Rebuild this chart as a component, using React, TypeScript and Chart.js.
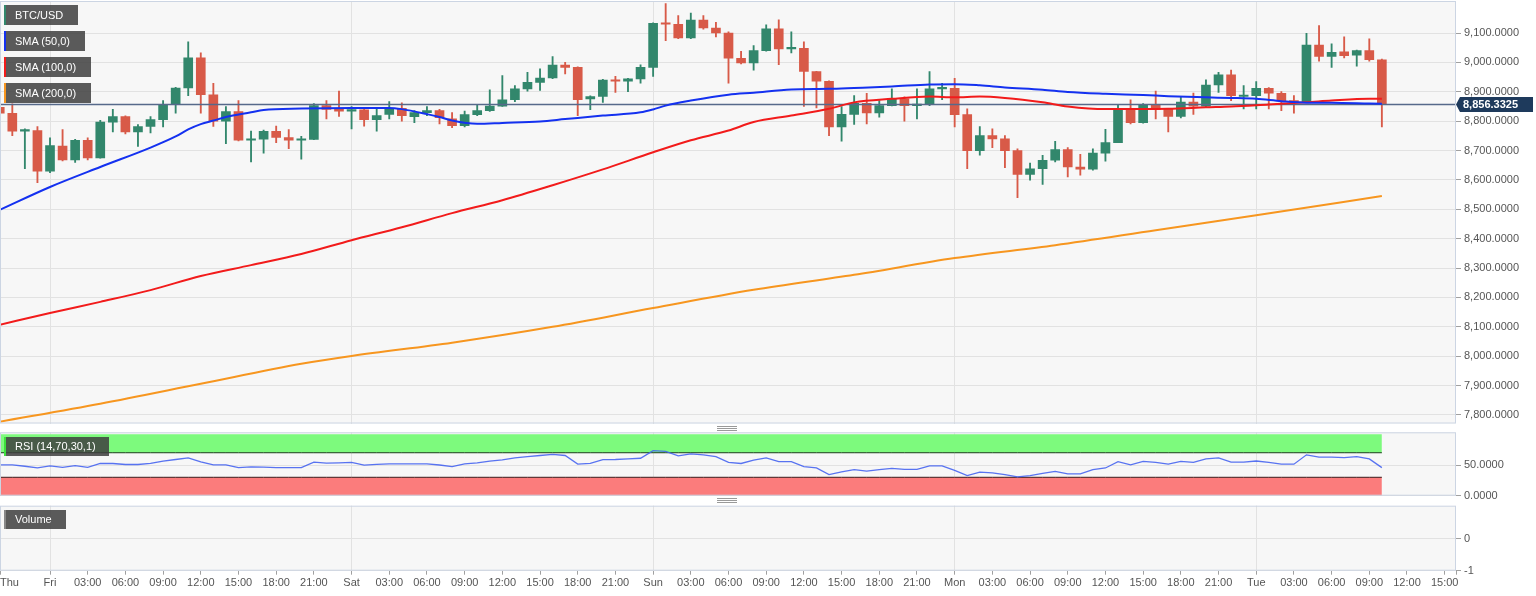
import React, { useEffect, useRef } from 'react';
import { Chart, registerables } from 'chart.js';

Chart.register(...registerables);

// ---------------- data (hourly candles, hour 0 = Fri 00:00) ----------------
const FIRST_CANDLE_HOUR = -4; // Thu 20:00

const OPEN = [
  8847, 8827, 8766, 8768, 8630, 8715, 8668, 8735, 8675, 8797,
  8816, 8763, 8782, 8805, 8857, 8913, 9016, 8890, 8800, 8833,
  8735, 8739, 8765, 8744, 8735, 8738, 8853, 8843, 8834, 8839,
  8805, 8823, 8844, 8815, 8829, 8836, 8808, 8785, 8822, 8836,
  8851, 8873, 8910, 8932, 8947, 8991, 8983, 8876, 8884, 8940,
  8936, 8944, 8983, 9133, 9130, 9083, 9144, 9117, 9100, 9014,
  8998, 9040, 9114, 9046, 9048, 8969, 8936, 8780, 8823, 8861,
  8828, 8853, 8876, 8853, 8856, 8910, 8912, 8822, 8700, 8751,
  8740, 8700, 8619, 8638, 8667, 8703, 8644, 8637, 8691, 8727,
  8842, 8795, 8857, 8840, 8816, 8865, 8851, 8923, 8958, 8884,
  8887, 8912, 8895, 8870, 8865, 9059, 9020, 9036, 9025, 9040, 9009,
];
const HIGH = [
  8898, 8859, 8774, 8782, 8743, 8771, 8738, 8743, 8803, 8840,
  8818, 8788, 8816, 8870, 8915, 9070, 9033, 8929, 8850, 8870,
  8766, 8770, 8783, 8771, 8748, 8860, 8870, 8902, 8850, 8842,
  8840, 8867, 8862, 8836, 8850, 8840, 8829, 8834, 8857, 8907,
  8955, 8921, 8966, 8978, 9020, 9000, 8985, 8886, 8942, 8953,
  8946, 8992, 9135, 9200, 9159, 9168, 9159, 9136, 9104, 9038,
  9057, 9128, 9145, 9104, 9070, 8970, 8937, 8850, 8887, 8895,
  8870, 8910, 8883, 8910, 8969, 8929, 8946, 8842, 8782, 8774,
  8751, 8706, 8657, 8684, 8731, 8710, 8687, 8706, 8772, 8856,
  8873, 8860, 8902, 8842, 8884, 8896, 8941, 8966, 8974, 8921,
  8935, 8914, 8901, 8887, 9099, 9125, 9063, 9087, 9042, 9080, 9011,
];
const LOW = [
  8703, 8751, 8638, 8591, 8625, 8665, 8660, 8668, 8674, 8763,
  8757, 8714, 8760, 8780, 8827, 8887, 8827, 8782, 8723, 8733,
  8661, 8691, 8727, 8706, 8671, 8737, 8808, 8816, 8774, 8783,
  8766, 8808, 8800, 8795, 8819, 8791, 8778, 8780, 8819, 8833,
  8850, 8866, 8902, 8905, 8945, 8961, 8819, 8839, 8864, 8898,
  8900, 8929, 8952, 9074, 9081, 9081, 9113, 9087, 8929, 8995,
  8974, 9038, 8992, 9032, 8850, 8845, 8751, 8732, 8789, 8791,
  8814, 8852, 8800, 8808, 8853, 8873, 8780, 8638, 8684, 8710,
  8642, 8540, 8599, 8585, 8661, 8610, 8616, 8633, 8664, 8727,
  8791, 8793, 8808, 8763, 8811, 8823, 8849, 8898, 8870, 8842,
  8842, 8842, 8836, 8827, 8863, 9004, 8983, 9015, 8987, 9004, 8780,
];
const CLOSE = [
  8827, 8766, 8768, 8630, 8717, 8668, 8735, 8675, 8797, 8816,
  8763, 8782, 8805, 8857, 8913, 9016, 8890, 8800, 8833, 8735,
  8739, 8765, 8745, 8735, 8738, 8853, 8840, 8834, 8839, 8805,
  8819, 8844, 8819, 8829, 8836, 8812, 8785, 8822, 8836, 8851,
  8873, 8910, 8932, 8947, 8991, 8983, 8873, 8884, 8940, 8936,
  8944, 8983, 9133, 9130, 9083, 9144, 9117, 9100, 9014, 8998,
  9040, 9114, 9046, 9048, 8969, 8936, 8780, 8823, 8861, 8828,
  8853, 8876, 8853, 8856, 8910, 8912, 8822, 8700, 8751, 8740,
  8700, 8619, 8638, 8667, 8703, 8644, 8637, 8691, 8727, 8839,
  8795, 8857, 8840, 8816, 8865, 8851, 8923, 8958, 8887, 8889,
  8912, 8895, 8870, 8865, 9059, 9020, 9034, 9023, 9040, 9009, 8856.3325,
];

const RSI = [
  50.3, 50.3, 48.0, 45.2, 48.6, 46.3, 49.1, 46.3, 52.5, 52.5,
  50.8, 50.8, 52.5, 56.5, 59.0, 61.5, 55.0, 50.3, 50.3, 45.8,
  46.9, 46.5, 45.8, 45.8, 45.8, 54.8, 53.1, 53.5, 54.2, 49.7,
  51.0, 52.0, 52.0, 52.0, 52.0, 50.0, 47.5, 52.0, 53.5, 56.5,
  58.5, 61.5, 63.5, 65.5, 67.2, 65.5, 51.4, 52.5, 58.7, 59.0,
  59.9, 61.0, 73.4, 72.3, 64.9, 68.3, 66.6, 63.8, 54.2, 52.5,
  58.0, 61.5, 55.4, 55.4, 47.5, 45.2, 34.5, 39.0, 42.4, 40.1,
  42.5, 44.6, 43.0, 43.0, 48.6, 48.6, 41.3, 32.8, 38.5, 37.3,
  34.5, 30.6, 32.8, 36.2, 39.6, 35.6, 35.6, 42.4, 45.2, 55.4,
  50.3, 55.9, 54.2, 51.4, 55.9, 54.2, 59.9, 61.5, 54.8, 54.8,
  56.5, 54.2, 51.4, 51.4, 66.6, 62.7, 62.7, 62.1, 63.8, 59.9, 45.8,
];
const RSI_OVERBOUGHT = 70;
const RSI_OVERSOLD = 30;
const RSI_CEIL = 100;

const VOLUME: number[] = [];

const SMA50_HOURS = [-4, 0, 4, 8, 10, 11, 12, 13, 14, 16, 17, 20, 24, 27, 28, 30, 31, 32, 34, 36, 39, 41, 44, 47, 48, 49, 51, 54, 56, 59, 62, 64, 67, 70, 72, 74, 76, 79, 81, 84, 87, 89, 92, 94, 96, 98, 100, 102, 105, 106];
const SMA50 = [8498, 8576, 8644, 8710, 8748, 8772, 8790, 8802, 8814, 8830, 8838, 8843, 8845, 8845, 8841, 8824, 8814, 8802, 8791, 8794, 8799, 8807, 8819, 8830, 8840, 8853, 8870, 8890, 8897, 8908, 8910, 8913, 8918, 8925, 8926, 8922, 8915, 8907, 8899, 8893, 8889, 8885, 8881, 8879, 8876, 8868, 8863, 8863, 8860, 8859];

const SMA100_HOURS = [-4, 0, 4, 8, 12, 16, 20, 24, 28, 32, 36, 40, 44, 48, 51, 54, 56, 59, 62, 64, 67, 70, 72, 74, 76, 79, 81, 84, 87, 89, 92, 94, 97, 100, 102, 105, 106];
const SMA100 = [8107, 8147, 8185, 8225, 8273, 8310, 8348, 8395, 8439, 8487, 8531, 8582, 8636, 8694, 8735, 8768, 8797, 8819, 8842, 8864, 8876, 8884, 8881, 8884, 8879, 8864, 8850, 8841, 8841, 8842, 8847, 8850, 8857, 8864, 8870, 8876, 8876];

const SMA200_HOURS = [-4, 4, 12, 20, 24, 32, 40, 48, 56, 64, 72, 80, 88, 96, 106];
const SMA200 = [7777, 7838, 7906, 7974, 8001, 8046, 8100, 8164, 8226, 8277, 8334, 8378, 8429, 8480, 8545];

const PRICE_TICKS = [7800, 7900, 8000, 8100, 8200, 8300, 8400, 8500, 8600, 8700, 8800, 8900, 9000, 9100];
const RSI_TICKS = [0, 50];
const VOLUME_TICKS = [-1, 0];

const TIME_TICK_HOURS = [0, 3, 6, 9, 12, 15, 18, 21, 24, 27, 30, 33, 36, 39, 42, 45, 48, 51, 54, 57, 60, 63, 66, 69, 72, 75, 78, 81, 84, 87, 90, 93, 96, 99, 102, 105, 108, 111];
const TIME_TICK_LABELS = [
  'Fri', '03:00', '06:00', '09:00', '12:00', '15:00', '18:00', '21:00',
  'Sat', '03:00', '06:00', '09:00', '12:00', '15:00', '18:00', '21:00',
  'Sun', '03:00', '06:00', '09:00', '12:00', '15:00', '18:00', '21:00',
  'Mon', '03:00', '06:00', '09:00', '12:00', '15:00', '18:00', '21:00',
  'Tue', '03:00', '06:00', '09:00', '12:00', '15:00',
];
const FIRST_DAY_LABEL = 'Thu';
const DAY_STARTS = [0, 24, 48, 72, 96];

// ---------------- layout / style ----------------
const X_MIN = -3.98;
const X_MAX = 111.9;
const AXIS_W = 80;
const FONT = '"Liberation Sans", Arial, Helvetica, sans-serif';
const TEXT = '#555555';
const GRID = '#e2e2e2';
const FRAME = '#ccd5e3';
const PLOT_BG = '#f7f7f7';
const UP = '#32876c';
const DOWN = '#d85a48';
const BLUE = '#1431f0';
const RED = '#f21b1b';
const ORANGE = '#f7961f';

const HOURS = OPEN.map((_, i) => FIRST_CANDLE_HOUR + i);
const LAST_PRICE = CLOSE[CLOSE.length - 1];
const X_TICKS = [X_MIN, ...TIME_TICK_HOURS, X_MAX];
const X_LABELS = [FIRST_DAY_LABEL, ...TIME_TICK_LABELS, ''];

const fmt4 = (v: number) => v.toLocaleString('en-US', { minimumFractionDigits: 4, maximumFractionDigits: 4 });

const noPad = (s: any) => {
  s.paddingLeft = 0; s.paddingRight = 0; s.paddingTop = 0; s.paddingBottom = 0;
};

const framePlugin = {
  id: 'frame',
  beforeDraw(chart: any) {
    const { ctx, chartArea: a } = chart;
    ctx.save();
    ctx.fillStyle = PLOT_BG;
    ctx.fillRect(a.left, a.top, a.right - a.left, a.bottom - a.top);
    ctx.restore();
  },
  afterDraw(chart: any) {
    const { ctx, chartArea: a } = chart;
    ctx.save();
    ctx.strokeStyle = FRAME;
    ctx.lineWidth = 1;
    ctx.strokeRect(a.left + 0.5, a.top + 0.5, a.right - a.left - 1, a.bottom - a.top - 1);
    ctx.restore();
  },
};

const priceTagPlugin = {
  id: 'priceTag',
  afterDraw(chart: any) {
    const { ctx, chartArea: a } = chart;
    const y = chart.scales.y.getPixelForValue(LAST_PRICE);
    const x = a.right + 2;
    ctx.save();
    ctx.fillStyle = '#1e3a5c';
    ctx.beginPath();
    ctx.moveTo(x - 2, y);
    ctx.lineTo(x + 2, y - 7.5);
    ctx.lineTo(x + 75, y - 7.5);
    ctx.lineTo(x + 75, y + 7.5);
    ctx.lineTo(x + 2, y + 7.5);
    ctx.closePath();
    ctx.fill();
    ctx.fillStyle = '#ffffff';
    ctx.font = `bold 11px ${FONT}`;
    ctx.textBaseline = 'middle';
    ctx.textAlign = 'left';
    ctx.fillText(fmt4(LAST_PRICE), x + 5, y + 0.5);
    ctx.restore();
  },
};

function timeAxis(withLabels: boolean) {
  return {
    type: 'linear',
    min: X_MIN,
    max: X_MAX,
    offset: false,
    afterBuildTicks: (s: any) => { s.ticks = X_TICKS.map((v) => ({ value: v })); },
    afterFit: (s: any) => { s.height = withLabels ? 25.3 : 0; noPad(s); },
    border: { display: false },
    grid: {
      offset: false,
      drawTicks: withLabels,
      tickLength: 4,
      tickColor: '#a0a0a0',
      color: (c: any) => (c.tick && DAY_STARTS.includes(c.tick.value) ? GRID : 'rgba(0,0,0,0)'),
    },
    ticks: {
      display: withLabels,
      autoSkip: false,
      maxRotation: 0,
      minRotation: 0,
      align: 'inner',
      padding: 2,
      color: TEXT,
      font: { size: 11, family: FONT },
      callback: (_v: any, i: number) => X_LABELS[i],
    },
  };
}

function valueAxis(min: number, max: number, ticks: number[], fmt: (v: number) => string) {
  return {
    type: 'linear',
    position: 'right',
    min,
    max,
    afterBuildTicks: (s: any) => { s.ticks = ticks.map((v) => ({ value: v })); },
    afterFit: (s: any) => { s.width = AXIS_W; noPad(s); },
    border: { display: false },
    grid: { color: GRID, drawTicks: true, tickLength: 5, tickColor: '#a0a0a0' },
    ticks: { padding: 3, color: TEXT, font: { size: 11, family: FONT }, callback: (v: any) => fmt(Number(v)) },
  };
}

const baseOptions = {
  animation: false,
  responsive: false,
  maintainAspectRatio: false,
  devicePixelRatio: 1,
  events: [],
  plugins: { legend: { display: false }, tooltip: { enabled: false } },
};

function mainConfig(): any {
  const candleColors = HOURS.map((_, i) => (CLOSE[i] >= OPEN[i] ? UP : DOWN));
  const line = (hours: number[], vals: number[], color: string) => ({
    type: 'line',
    data: hours.map((h, i) => ({ x: h, y: vals[i] })),
    borderColor: color,
    borderWidth: 2,
    pointRadius: 0,
    tension: 0.4,
    cubicInterpolationMode: 'monotone',
    order: 0,
  });
  return {
    type: 'line',
    data: {
      datasets: [
        { label: 'SMA (50,0)', ...line(SMA50_HOURS, SMA50, BLUE) },
        { label: 'SMA (100,0)', ...line(SMA100_HOURS, SMA100, RED) },
        { label: 'SMA (200,0)', ...line(SMA200_HOURS, SMA200, ORANGE) },
        {
          type: 'line', label: 'last',
          data: [{ x: X_MIN, y: LAST_PRICE }, { x: X_MAX, y: LAST_PRICE }],
          borderColor: '#56698a', borderWidth: 1.5, pointRadius: 0, order: 1,
        },
        {
          type: 'bar', label: 'body',
          data: HOURS.map((h, i) => ({ x: h, y: [OPEN[i], CLOSE[i]] })),
          backgroundColor: candleColors, barThickness: 9, grouped: false, minBarLength: 1.5,
          borderWidth: 0, order: 2,
        },
        {
          type: 'bar', label: 'wick',
          data: HOURS.map((h, i) => ({ x: h, y: [LOW[i], HIGH[i]] })),
          backgroundColor: candleColors, barThickness: 1.2, grouped: false, borderWidth: 0, order: 3,
        },
      ],
    },
    options: {
      ...baseOptions,
      layout: { padding: { top: 1, bottom: 2.5, left: 0, right: 0 } },
      scales: {
        x: timeAxis(false),
        y: valueAxis(7771, 9209, PRICE_TICKS, fmt4),
      },
    },
    plugins: [framePlugin, priceTagPlugin],
  };
}

function rsiConfig(): any {
  return {
    type: 'line',
    data: {
      datasets: [
        {
          label: 'RSI', data: HOURS.map((h, i) => ({ x: h, y: RSI[i] })),
          borderColor: 'rgba(70,100,240,0.9)', borderWidth: 1.3, pointRadius: 0, tension: 0, order: 0,
        },
        {
          label: 'overbought', data: HOURS.map((h) => ({ x: h, y: RSI_OVERBOUGHT })),
          fill: { value: RSI_CEIL }, backgroundColor: '#7dfa7d', borderColor: '#1d3b1d',
          borderWidth: 1, pointRadius: 0, order: 1,
        },
        {
          label: 'oversold', data: HOURS.map((h) => ({ x: h, y: RSI_OVERSOLD })),
          fill: { value: 0 }, backgroundColor: '#fb7c7c', borderColor: '#3b1d1d',
          borderWidth: 1, pointRadius: 0, order: 1,
        },
      ],
    },
    options: {
      ...baseOptions,
      layout: { padding: { top: 6.3, bottom: 4.3, left: 0, right: 0 } },
      scales: {
        x: timeAxis(false),
        y: valueAxis(0, 103.3, RSI_TICKS, fmt4),
      },
    },
    plugins: [framePlugin],
  };
}

function volumeConfig(): any {
  return {
    type: 'line',
    data: {
      datasets: [
        { type: 'bar', label: 'Volume', data: VOLUME.map((v, i) => ({ x: HOURS[i], y: v })), backgroundColor: '#999', grouped: false, barThickness: 9 },
      ],
    },
    options: {
      ...baseOptions,
      layout: { padding: { top: 5.7, bottom: 0, left: 0, right: 0 } },
      scales: {
        x: timeAxis(true),
        y: valueAxis(-1, 1.02, VOLUME_TICKS, (v) => String(v)),
      },
    },
    plugins: [framePlugin],
  };
}

const legendStyle = (left: number, top: number, width: number, color: string): React.CSSProperties => ({
  position: 'absolute',
  left,
  top,
  width,
  height: 20,
  boxSizing: 'border-box',
  background: 'rgba(62,62,62,0.85)',
  borderLeft: `2px solid ${color}`,
  color: '#ffffff',
  font: `11px ${FONT}`,
  lineHeight: '20px',
  paddingLeft: 9,
  whiteSpace: 'nowrap',
});

function Handle({ top }: { top: number }) {
  return (
    <div style={{ position: 'absolute', left: 717, top, width: 20, height: 5 }}>
      {[0, 2, 4].map((o) => (
        <div key={o} style={{ position: 'absolute', left: 0, top: o, width: 20, height: 1, background: '#9a9a9a' }} />
      ))}
    </div>
  );
}

export default function App() {
  const mainRef = useRef<HTMLCanvasElement>(null);
  const rsiRef = useRef<HTMLCanvasElement>(null);
  const volRef = useRef<HTMLCanvasElement>(null);

  useEffect(() => {
    Chart.defaults.font.family = FONT;
    const charts = [
      new Chart(mainRef.current as HTMLCanvasElement, mainConfig()),
      new Chart(rsiRef.current as HTMLCanvasElement, rsiConfig()),
      new Chart(volRef.current as HTMLCanvasElement, volumeConfig()),
    ];
    return () => charts.forEach((c) => c.destroy());
  }, []);

  return (
    <div style={{ position: 'fixed', left: 0, top: 0, width: 1536, height: 596, background: '#ffffff', overflow: 'hidden' }}>
      <canvas ref={mainRef} width={1536} height={426} style={{ position: 'absolute', left: 0, top: 0 }} />
      <canvas ref={rsiRef} width={1536} height={74} style={{ position: 'absolute', left: 0, top: 426 }} />
      <canvas ref={volRef} width={1536} height={96} style={{ position: 'absolute', left: 0, top: 500 }} />

      <div style={legendStyle(4, 5, 74, UP)}>BTC/USD</div>
      <div style={legendStyle(4, 31, 81, BLUE)}>SMA (50,0)</div>
      <div style={legendStyle(4, 57, 87, RED)}>SMA (100,0)</div>
      <div style={legendStyle(4, 83, 87, ORANGE)}>SMA (200,0)</div>
      <div style={{ ...legendStyle(4, 437, 105, '#3ee03e'), height: 19, lineHeight: '19px' }}>RSI (14,70,30,1)</div>
      <div style={{ ...legendStyle(4, 510, 62, '#888'), height: 19, lineHeight: '19px' }}>Volume</div>

      <Handle top={426} />
      <Handle top={498} />
    </div>
  );
}
